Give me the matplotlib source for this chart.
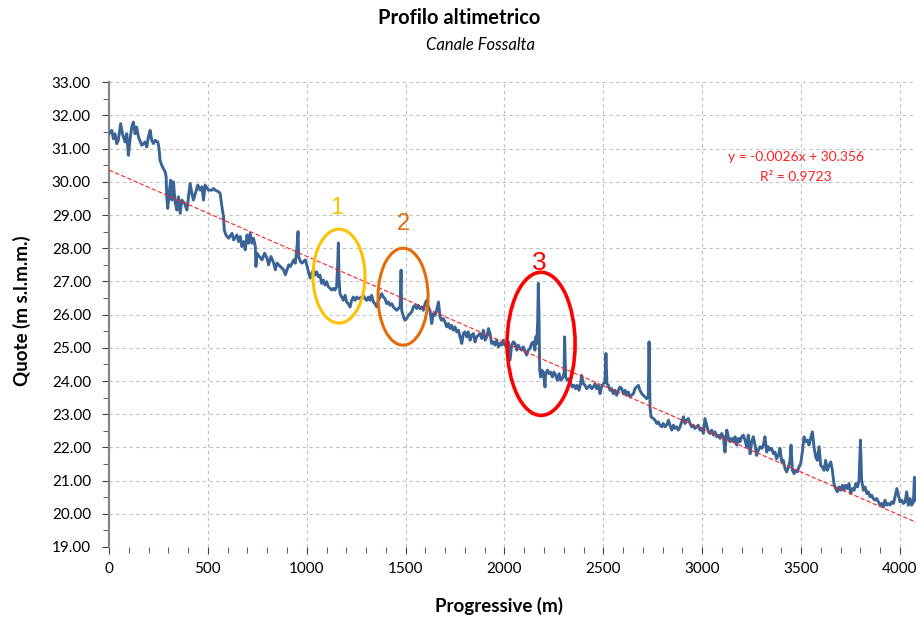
import numpy as np
import matplotlib
matplotlib.use("Agg")
import matplotlib.pyplot as plt
from matplotlib.patches import Ellipse
from matplotlib.ticker import MultipleLocator, FormatStrFormatter

plt.rcParams["font.family"] = ["Lato", "DejaVu Sans"]

# profile: progressive (m) / elevation (m s.l.m.m.)
prog = [
    0, 5, 14, 22, 30, 39, 47, 59, 68, 81, 90, 98, 106, 115, 123, 132, 140, 149, 166, 182,
    191, 199, 208, 216, 225, 233, 247, 253, 258, 267, 275, 284, 289, 292, 297, 306, 312, 318, 326, 334,
    343, 351, 360, 368, 382, 394, 402, 410, 419, 427, 439, 449, 461, 470, 478, 486, 503, 520, 529, 537,
    554, 562, 571, 579, 583, 591, 605, 622, 630, 647, 655, 664, 672, 681, 689, 698, 706, 714, 723, 731,
    740, 743, 748, 760, 774, 787, 799, 807, 819, 833, 841, 850, 866, 883, 892, 900, 909, 917, 926, 934,
    942, 951, 956, 959, 968, 976, 993, 1002, 1010, 1018,
    1025, 1033, 1042, 1050, 1059, 1067, 1075, 1084, 1092, 1101, 1109, 1118, 1126, 1135, 1143, 1151, 1156, 1160, 1163, 1168,
    1177, 1185, 1194, 1202, 1210, 1219, 1227, 1236, 1244, 1253, 1261, 1278, 1286, 1295, 1303, 1312, 1320, 1328, 1337, 1345,
    1354, 1362, 1371, 1379, 1387, 1396, 1404, 1413, 1421, 1430, 1438, 1446, 1455, 1463, 1472, 1477, 1480, 1489, 1497, 1505,
    1514, 1522, 1531, 1539, 1548, 1556, 1564, 1573, 1581, 1590, 1598, 1607, 1615, 1623, 1632, 1640, 1649, 1657, 1666, 1674,
    1682, 1691, 1699, 1708, 1716, 1725, 1733, 1741, 1750, 1758, 1767, 1775, 1784, 1792, 1800, 1809, 1817, 1826, 1834, 1843,
    1851, 1859, 1868, 1876, 1885, 1893, 1902, 1910, 1919, 1927, 1935, 1944, 1952, 1961, 1969, 1978, 1986, 1994,
    2003, 2011, 2019, 2028, 2036, 2045, 2053, 2062, 2070, 2078, 2087, 2095, 2104, 2112, 2120, 2129, 2137, 2146, 2154, 2158,
    2163, 2168, 2171, 2174, 2178, 2183, 2188, 2196, 2205, 2208, 2217, 2225, 2233, 2242, 2250, 2259, 2267, 2276, 2284, 2292,
    2301, 2304, 2309, 2318, 2326, 2335, 2343, 2352, 2360, 2368, 2377, 2385, 2390, 2399, 2407, 2416, 2424, 2432, 2441, 2449,
    2458, 2466, 2475, 2483, 2491, 2500, 2508, 2513, 2518, 2525, 2534, 2542, 2550, 2559, 2567, 2576, 2584, 2593, 2601, 2610,
    2618, 2626, 2635, 2643, 2652, 2660, 2668, 2677, 2685, 2694, 2702, 2711, 2719, 2727, 2731, 2736, 2741, 2753, 2761, 2770,
    2778, 2786, 2795, 2803, 2812, 2820, 2829, 2837, 2846, 2854, 2862, 2871, 2879, 2888, 2896, 2905, 2913, 2921, 2930, 2938,
    2947, 2955, 2963, 2972, 2980, 2989, 2997, 3006,
    3014, 3031, 3039, 3048, 3056, 3065, 3073, 3081, 3090, 3098, 3107, 3115, 3124, 3132, 3140, 3149, 3157, 3166, 3174, 3183,
    3191, 3199, 3208, 3216, 3225, 3233, 3242, 3250, 3258, 3267, 3275, 3284, 3292, 3301, 3309, 3317, 3326, 3334, 3343, 3351,
    3360, 3368, 3376, 3385, 3393, 3402, 3410, 3419, 3427, 3436, 3444, 3449, 3456, 3464, 3473, 3481, 3489, 3498, 3506, 3515,
    3523, 3532, 3540, 3548, 3557, 3565, 3574, 3582, 3591, 3599, 3607, 3616, 3624, 3633, 3641, 3650, 3658, 3666, 3675, 3683,
    3692, 3700, 3709, 3717, 3725, 3734, 3742, 3751, 3759, 3768, 3776, 3785, 3793, 3800, 3806, 3815, 3823, 3832, 3840, 3849,
    3857, 3865, 3874, 3882, 3891, 3899, 3908, 3916, 3924, 3933, 3941, 3950, 3958, 3967, 3975, 3984, 3992, 4000, 4009, 4017,
    4026, 4034, 4042, 4051, 4059, 4068, 4073, 4080,
]
quota = [
    31.45, 31.50, 31.55, 31.30, 31.45, 31.15, 31.25, 31.75, 31.45, 31.20, 31.45, 30.80, 31.25, 31.65, 31.80, 31.45, 31.65, 31.35, 31.10, 31.20,
    31.05, 31.35, 31.55, 31.25, 31.15, 31.25, 31.20, 31.00, 30.65, 30.50, 30.40, 30.30, 30.15, 29.55, 29.20, 29.75, 30.05, 29.45, 30.00, 29.40,
    29.15, 29.55, 29.05, 29.45, 29.35, 29.15, 29.55, 29.95, 29.65, 29.45, 29.70, 29.90, 29.75, 29.85, 29.45, 29.90, 29.75, 29.75, 29.80, 29.75,
    29.70, 29.65, 29.25, 28.95, 28.55, 28.40, 28.30, 28.45, 28.25, 28.40, 28.20, 28.35, 28.05, 28.20, 27.95, 28.40, 28.15, 28.45, 28.15, 28.30,
    28.05, 27.45, 27.85, 27.75, 27.65, 27.85, 27.70, 27.50, 27.75, 27.55, 27.35, 27.55, 27.45, 27.35, 27.20, 27.35, 27.50, 27.45, 27.55, 27.65,
    27.55, 28.05, 28.50, 27.75, 27.60, 27.55, 27.65, 27.45, 27.25, 27.10,
    27.24, 27.34, 27.19, 27.29, 27.14, 27.19, 26.94, 27.04, 26.89, 26.99, 26.84, 26.79, 26.74, 26.79, 26.74, 26.84, 27.44, 28.16, 27.14, 26.63,
    26.53, 26.43, 26.58, 26.38, 26.33, 26.23, 26.43, 26.53, 26.43, 26.53, 26.48, 26.53, 26.58, 26.48, 26.43, 26.53, 26.43, 26.58, 26.38, 26.33,
    26.23, 26.43, 26.53, 26.63, 26.53, 26.48, 26.33, 26.38, 26.28, 26.33, 26.23, 26.18, 26.13, 26.18, 26.23, 27.34, 26.13, 25.93, 25.83, 25.88,
    25.98, 26.03, 26.08, 26.23, 26.28, 26.18, 26.28, 26.18, 26.23, 26.13, 26.33, 26.43, 26.23, 26.13, 25.73, 26.03, 25.98, 26.13, 26.38, 25.93,
    25.83, 25.88, 25.78, 25.63, 25.73, 25.58, 25.68, 25.53, 25.63, 25.48, 25.53, 25.33, 25.13, 25.43, 25.48, 25.33, 25.48, 25.23, 25.38, 25.43,
    25.18, 25.33, 25.38, 25.43, 25.28, 25.53, 25.23, 25.33, 25.58, 25.43, 25.13, 25.18, 25.08, 25.23, 25.03, 25.13, 25.08, 25.23,
    25.08, 25.03, 25.18, 24.63, 25.08, 25.18, 25.13, 24.93, 25.08, 24.98, 24.93, 25.03, 24.88, 24.78, 24.93, 24.98, 25.13, 25.18, 24.93, 25.33,
    25.13, 25.83, 26.94, 26.13, 24.33, 24.12, 24.33, 24.27, 23.82, 24.22, 24.33, 24.22, 24.27, 24.12, 24.27, 24.17, 24.02, 24.22, 24.02, 24.07,
    24.22, 25.33, 24.12, 24.02, 24.07, 23.92, 23.82, 23.87, 23.77, 23.87, 23.72, 23.92, 24.17, 23.92, 23.87, 23.77, 23.82, 23.87, 23.77, 23.82,
    23.92, 23.77, 23.87, 23.62, 23.82, 23.92, 23.97, 24.83, 23.92, 23.87, 23.72, 23.77, 23.62, 23.72, 23.57, 23.72, 23.82, 23.77, 23.62, 23.72,
    23.57, 23.67, 23.52, 23.57, 23.62, 23.77, 23.82, 23.87, 23.72, 23.62, 23.57, 23.52, 23.47, 23.52, 25.18, 23.22, 22.92, 22.87, 22.82, 22.72,
    22.77, 22.67, 22.62, 22.72, 22.62, 22.67, 22.82, 22.67, 22.52, 22.67, 22.57, 22.62, 22.52, 22.62, 22.77, 22.92, 22.72, 22.82, 22.87, 22.72,
    22.62, 22.67, 22.57, 22.62, 22.67, 22.52, 22.57, 22.42,
    22.87, 22.47, 22.42, 22.52, 22.37, 22.47, 22.32, 22.37, 22.27, 22.42, 22.32, 21.86, 22.52, 22.32, 22.17, 22.27, 22.17, 22.32, 22.07, 22.27,
    22.17, 22.32, 22.37, 22.22, 22.02, 22.37, 21.81, 22.17, 22.32, 22.07, 21.76, 21.92, 22.02, 21.97, 22.07, 22.32, 21.86, 22.02, 21.92, 21.97,
    21.81, 21.86, 21.66, 21.76, 21.97, 21.56, 21.61, 21.36, 21.26, 21.41, 21.61, 22.07, 21.31, 21.21, 21.31, 21.26, 21.41, 21.51, 21.86, 22.32,
    22.17, 22.22, 22.07, 22.27, 22.47, 22.02, 21.71, 21.61, 22.02, 21.46, 21.41, 21.31, 21.61, 21.31, 21.46, 21.56, 21.31, 20.91, 20.76, 20.66,
    20.81, 20.71, 20.86, 20.71, 20.86, 20.76, 20.91, 20.61, 20.76, 20.71, 20.91, 20.81, 21.01, 22.22, 21.01, 20.71, 20.81, 20.61, 20.66, 20.51,
    20.56, 20.46, 20.41, 20.46, 20.36, 20.26, 20.31, 20.21, 20.41, 20.26, 20.31, 20.26, 20.36, 20.31, 20.51, 20.76, 20.56, 20.36, 20.41, 20.31,
    20.36, 20.66, 20.26, 20.46, 20.26, 20.36, 21.10, 20.41,
]

# linear trend (Excel trendline)
slope = -0.0026
intercept = 30.356
r2 = 0.9723

# highlighted anomalies: label, centre (m, m), width (m), height (m), colour
anom_labels = ["1", "2", "3"]
anom_x = [1163, 1487, 2185]
anom_y = [27.16, 26.54, 25.12]
anom_w = [263, 253, 344]
anom_h = [2.83, 2.92, 4.31]
anom_colors = ["#FFC000", "#E46C0A", "#FF0000"]
label_x = [1153, 1487, 2174]
label_y = [29.2, 28.72, 27.55]
label_size = [17, 17, 19]

fig = plt.figure(figsize=(9.16, 6.23), dpi=100)
ax = fig.add_axes([0.119, 0.122, 0.881, 0.746])

ax.plot(prog, quota, color="#3A6496", linewidth=2.1, zorder=3)

xt = np.array([0, 4081])
ax.plot(xt, slope * xt + intercept, color="#FF2020", linewidth=0.8,
        linestyle=(0, (4, 2)), zorder=4)

for lab, cx, cy, w, h, c, lx, ly, fs in zip(anom_labels, anom_x, anom_y, anom_w, anom_h,
                                            anom_colors, label_x, label_y, label_size):
    ax.add_patch(Ellipse((cx, cy), w, h, fill=False, edgecolor=c,
                         linewidth=2.6 if c == "#FF0000" else 2.2, zorder=5))
    ax.text(lx, ly, lab, color=c, fontsize=fs, ha="center", va="center",
            family=["Liberation Sans", "DejaVu Sans"])

ax.text(3474, 30.74, "y = -0.0026x + 30.356", color="#FF2020", fontsize=10,
        ha="center", va="center")
ax.text(3474, 30.14, "R² = 0.9723", color="#FF2020", fontsize=10,
        ha="center", va="center")

ax.set_xlim(0, 4081)
ax.set_ylim(19, 33)
ax.xaxis.set_major_locator(MultipleLocator(500))
ax.xaxis.set_minor_locator(MultipleLocator(100))
ax.yaxis.set_major_locator(MultipleLocator(1))
ax.yaxis.set_minor_locator(MultipleLocator(0.5))
ax.yaxis.set_major_formatter(FormatStrFormatter("%.2f"))

ax.grid(True, which="major", color="#BFBFBF", linestyle=(0, (3, 3)), linewidth=0.8)
ax.set_axisbelow(True)
for s in ["top", "right", "bottom"]:
    ax.spines[s].set_visible(False)
ax.spines["left"].set_color("#868686")
ax.spines["left"].set_linewidth(1.6)

ax.tick_params(axis="both", which="both", direction="out", colors="#404040",
               labelcolor="black", labelsize=11)
ax.tick_params(axis="y", which="major", length=5, pad=8)
ax.tick_params(axis="y", which="minor", length=4)
ax.tick_params(axis="x", which="major", length=5, pad=6)
ax.tick_params(axis="x", which="minor", length=4)

fig.text(0.501, 0.971, "Profilo altimetrico", ha="center", va="center",
         fontsize=14.5, fontweight="bold")
fig.text(0.525, 0.928, "Canale Fossalta", ha="center", va="center",
         fontsize=12, style="italic")
fig.text(0.545, 0.027, "Progressive (m)", ha="center", va="center",
         fontsize=13.5, fontweight="bold")
fig.text(0.024, 0.502, "Quote (m s.l.m.m.)", ha="center", va="center",
         fontsize=13.5, fontweight="bold", rotation=90)

fig.savefig("out.png", dpi=100)
